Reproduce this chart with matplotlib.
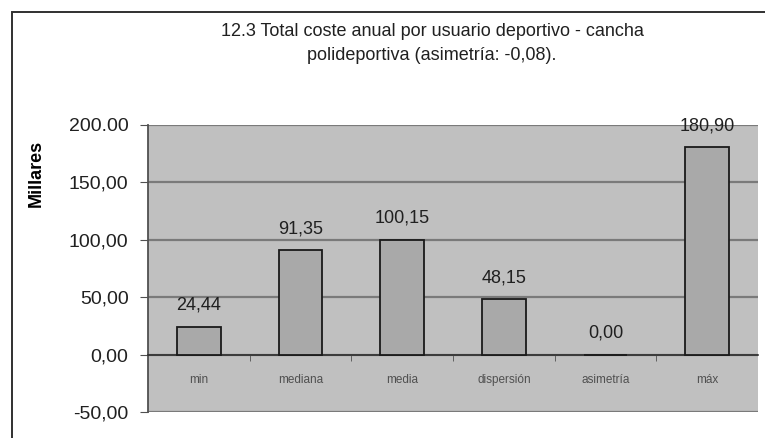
import matplotlib.pyplot as plt
from matplotlib.patches import Rectangle

plt.rcParams['font.family'] = ['Liberation Sans', 'DejaVu Sans']

categorias = ['min', 'mediana', 'media', 'dispersión', 'asimetría', 'máx']
valores = [24.44, 91.35, 100.15, 48.15, 0.00, 180.90]
etiquetas = ['24,44', '91,35', '100,15', '48,15', '0,00', '180,90']
yticks = [-50, 0, 50, 100, 150, 200]
ytick_labels = ['-50,00', '0,00', '50,00', '100,00', '150,00', '200.00']

fig = plt.figure(figsize=(7.65, 4.38), dpi=100)
fig.patch.set_facecolor('white')

# marco exterior (solo visible arriba e izquierda)
fig.add_artist(Rectangle((12 / 765, -0.1), 1.2, 1 - 12 / 438 + 0.1,
                         transform=fig.transFigure, fill=False,
                         edgecolor='#303030', lw=1.4))

ax = fig.add_axes([148 / 765, 1 - 412 / 438, 610 / 765, 287 / 438])
ax.set_facecolor('#c0c0c0')

x = list(range(len(categorias)))
ax.bar(x, valores, width=0.43, color='#a9a9a9', edgecolor='#1a1a1a', lw=1.3, zorder=3)

for xi, v, lab in zip(x, valores, etiquetas):
    ax.text(xi, v + 11, lab, ha='center', va='bottom', fontsize=13, color='#202020', zorder=4)

ax.set_xlim(-0.5, len(categorias) - 0.5)
ax.set_ylim(-50, 200)
ax.set_yticks(yticks)
ax.set_yticklabels(ytick_labels, fontsize=14, color='#202020')
ax.yaxis.grid(True, color='#7a7a7a', lw=1.6, zorder=1)
ax.set_axisbelow(True)

ax.spines['bottom'].set_position(('data', 0))
ax.spines['bottom'].set_color('#303030')
ax.spines['bottom'].set_linewidth(1.2)
ax.spines['left'].set_color('#505050')
ax.spines['left'].set_linewidth(1.3)
ax.spines['top'].set_visible(False)
ax.spines['right'].set_visible(False)

ax.set_xticks(x)
ax.set_xticklabels(categorias, fontsize=8.5, color='#505050')
ax.tick_params(axis='x', length=0, pad=14)
ax.set_xticks([i + 0.5 for i in x[:-1]], minor=True)
ax.tick_params(axis='x', which='minor', length=4, color='#505050', direction='out')
ax.tick_params(axis='y', length=6, color='#505050', pad=8)

ax.set_ylabel('Millares', fontsize=13, fontweight='bold')
ax.yaxis.set_label_coords((45 - 148) / 610, (412 - 173) / 287)

fig.text(432 / 765, 1 - 31 / 438, '12.3 Total coste anual por usuario deportivo - cancha',
         ha='center', va='center', fontsize=13, color='#202020')
fig.text(432 / 765, 1 - 56 / 438, 'polideportiva (asimetría: -0,08).',
         ha='center', va='center', fontsize=13, color='#202020')

fig.savefig('out.png', dpi=100)
